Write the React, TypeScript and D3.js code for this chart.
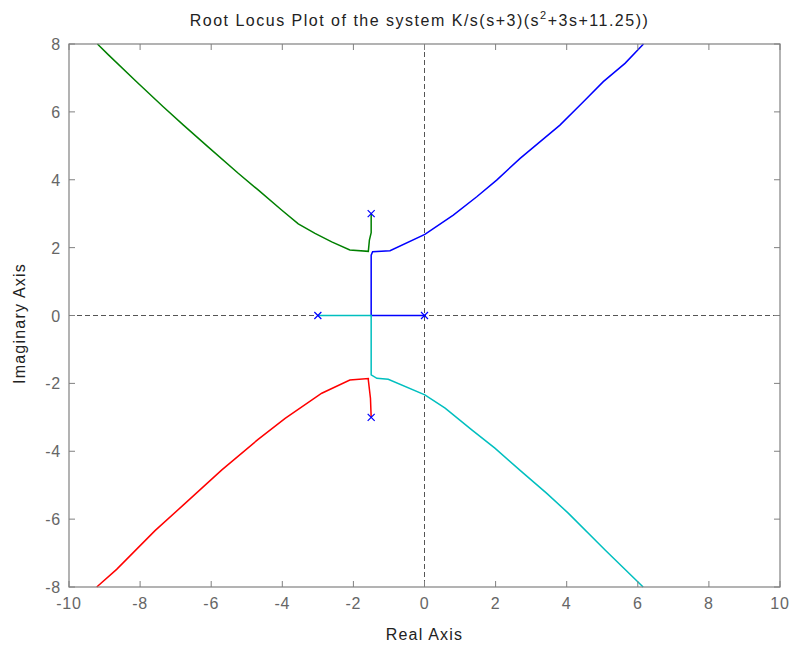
import React, { useEffect, useRef } from 'react';
import * as d3 from 'd3';

// branches, [real, imag]
const blueBranch: [number, number][] = [
  [0, 0], [-1.5, 0], [-1.5, 1.78], [-1.46, 1.88], [-0.97, 1.91], [0.01, 2.39],
  [0.81, 2.96], [1.47, 3.5], [2.03, 3.99], [2.69, 4.63], [3.81, 5.61],
  [4.47, 6.3], [5.03, 6.89], [5.64, 7.43], [6.16, 8.0],
];
const greenBranch: [number, number][] = [
  [-1.5, 3.0], [-1.5, 2.44], [-1.55, 2.22], [-1.58, 1.89], [-2.1, 1.93],
  [-2.61, 2.17], [-3.08, 2.42], [-3.55, 2.7], [-4.02, 3.11], [-4.68, 3.7],
  [-5.24, 4.19], [-6.08, 4.96], [-6.78, 5.61], [-7.35, 6.15], [-8.1, 6.89],
  [-8.89, 7.68], [-9.2, 8.0],
];
const redBranch: [number, number][] = [
  [-1.5, -3.0], [-1.52, -2.44], [-1.58, -1.9], [-1.58, -1.86], [-2.1, -1.9],
  [-2.89, -2.29], [-3.92, -3.03], [-4.68, -3.65], [-5.7, -4.55], [-6.78, -5.58],
  [-7.58, -6.34], [-8.66, -7.48], [-9.22, -8.0],
];
const cyanBranch: [number, number][] = [
  [-3, 0], [-1.5, 0], [-1.5, -1.75], [-1.34, -1.85], [-1.02, -1.88], [0.01, -2.34],
  [0.58, -2.73], [1.33, -3.37], [1.98, -3.91], [2.73, -4.6], [3.44, -5.24],
  [4.05, -5.83], [5.08, -6.91], [6.15, -8.0],
];
const branches = [
  { pts: blueBranch, color: '#0000ff' },
  { pts: greenBranch, color: '#008000' },
  { pts: redBranch, color: '#ff0000' },
  { pts: cyanBranch, color: '#00bfbf' },
];
const poles: [number, number][] = [[0, 0], [-3, 0], [-1.5, 3], [-1.5, -3]];
const xTicks = [-10, -8, -6, -4, -2, 0, 2, 4, 6, 8, 10];
const yTicks = [-8, -6, -4, -2, 0, 2, 4, 6, 8];

const App = () => {
  const svgRef = useRef<SVGSVGElement>(null);

  useEffect(() => {
    const svg = d3.select(svgRef.current);
    svg.selectAll('*').remove();

    const margin = { top: 44, right: 14, bottom: 62, left: 69 };
    const width = 794 - margin.left - margin.right;
    const height = 649 - margin.top - margin.bottom;
    const font = 'Liberation Sans, Arial, sans-serif';
    const axisColor = '#808080';

    const x = d3.scaleLinear().domain([-10, 10]).range([0, width]);
    const y = d3.scaleLinear().domain([-8, 8]).range([height, 0]);

    const g = svg.append('g').attr('transform', `translate(${margin.left},${margin.top})`);

    // dashed zero lines
    g.append('line')
      .attr('x1', x(0)).attr('x2', x(0)).attr('y1', 0).attr('y2', height)
      .attr('stroke', '#555').attr('stroke-dasharray', '5,3');
    g.append('line')
      .attr('x1', 0).attr('x2', width).attr('y1', y(0)).attr('y2', y(0))
      .attr('stroke', '#555').attr('stroke-dasharray', '5,3');

    const line = d3.line<[number, number]>().x(d => x(d[0])).y(d => y(d[1]));
    branches.forEach(b => {
      g.append('path')
        .datum(b.pts)
        .attr('d', line)
        .attr('fill', 'none')
        .attr('stroke', b.color)
        .attr('stroke-width', 1.5);
    });

    // pole markers
    const s = 3.5;
    g.selectAll('.pole')
      .data(poles)
      .enter().append('path')
      .attr('class', 'pole')
      .attr('d', d => {
        const cx = x(d[0]), cy = y(d[1]);
        return `M${cx - s},${cy - s}L${cx + s},${cy + s}M${cx - s},${cy + s}L${cx + s},${cy - s}`;
      })
      .attr('stroke', '#0000ff')
      .attr('stroke-width', 1.2);

    // frame and ticks
    g.append('rect')
      .attr('width', width).attr('height', height)
      .attr('fill', 'none').attr('stroke', axisColor).attr('stroke-width', 1.2);

    const tl = 6;
    const tickText = (sel: any) => sel
      .attr('font-family', font).attr('font-size', 16).attr('fill', '#666')
      .attr('letter-spacing', 0.8);
    xTicks.forEach(t => {
      g.append('line').attr('x1', x(t)).attr('x2', x(t)).attr('y1', height).attr('y2', height - tl)
        .attr('stroke', axisColor);
      g.append('line').attr('x1', x(t)).attr('x2', x(t)).attr('y1', 0).attr('y2', tl)
        .attr('stroke', axisColor);
      g.append('text')
        .attr('x', x(t)).attr('y', height + 22)
        .attr('text-anchor', 'middle')
        .call(tickText)
        .text(t);
    });
    yTicks.forEach(t => {
      g.append('line').attr('x1', 0).attr('x2', tl).attr('y1', y(t)).attr('y2', y(t))
        .attr('stroke', axisColor);
      g.append('line').attr('x1', width).attr('x2', width - tl).attr('y1', y(t)).attr('y2', y(t))
        .attr('stroke', axisColor);
      g.append('text')
        .attr('x', -8).attr('y', y(t) + 6)
        .attr('text-anchor', 'end')
        .call(tickText)
        .text(t);
    });

    // labels
    g.append('text')
      .attr('x', width / 2).attr('y', height + 53)
      .attr('text-anchor', 'middle')
      .attr('font-family', font).attr('font-size', 16).attr('fill', '#222')
      .attr('letter-spacing', 1.2)
      .text('Real Axis');
    g.append('text')
      .attr('transform', `translate(${-44},${height / 2 + 8}) rotate(-90)`)
      .attr('text-anchor', 'middle')
      .attr('font-family', font).attr('font-size', 16).attr('fill', '#222')
      .attr('letter-spacing', 1.2)
      .text('Imaginary Axis');

    const title = g.append('text')
      .attr('x', width / 2 - 5).attr('y', -18)
      .attr('text-anchor', 'middle')
      .attr('font-family', font).attr('font-size', 16).attr('fill', '#222')
      .attr('letter-spacing', 1.5);
    title.append('tspan').text('Root Locus Plot of the system K/s(s+3)(s');
    title.append('tspan').attr('dy', -7).attr('font-size', 11).text('2');
    title.append('tspan').attr('dy', 7).text('+3s+11.25))');
  }, []);

  return <svg ref={svgRef} width={794} height={649} style={{ display: 'block', position: 'absolute', left: 0, top: 0 }}></svg>;
};

export default App;
